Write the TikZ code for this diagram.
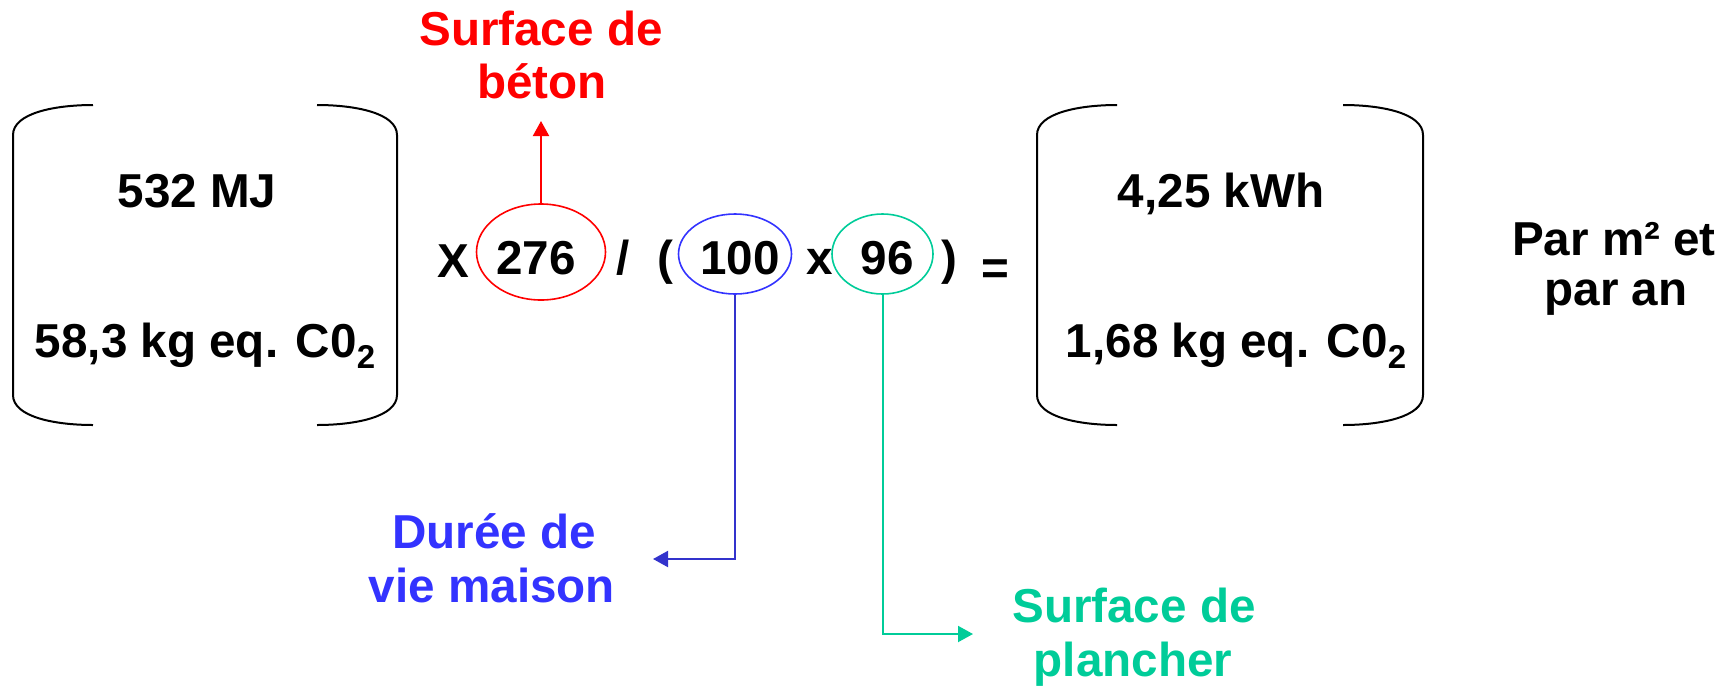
\documentclass[tikz,border=0pt]{standalone}
\usepackage{fontspec}
\setmainfont{Liberation Sans}
\usetikzlibrary{arrows.meta,shapes.geometric}
\definecolor{myred}{HTML}{FF0000}
\definecolor{myblue}{HTML}{3333FF}
\definecolor{mybluel}{HTML}{3333CC}
\definecolor{mygreen}{HTML}{00CC99}
\newcommand{\subtwo}{\raisebox{-11pt}{\fontsize{33}{33}\selectfont 2}}
\begin{document}
\begin{tikzpicture}[x=1pt,y=-1pt,
  txt/.style={inner sep=0pt,anchor=base,font=\fontsize{47.6}{56}\selectfont\bfseries},
  brk/.style={draw=black,line width=2pt},
  ell/.style={ellipse,draw,line width=1.6pt,inner sep=0pt},
  conn/.style={line width=2pt,-{Triangle[length=15pt,width=16pt]}}]
\useasboundingbox (0,0) rectangle (1731,686);
% left bracket
\draw[brk] (93,105) .. controls (55,105) and (13,113) .. (13,135) -- (13,395) .. controls (13,417) and (55,425) .. (93,425);
\draw[brk] (317,105) .. controls (355,105) and (397,113) .. (397,135) -- (397,395) .. controls (397,417) and (355,425) .. (317,425);
% right bracket
\draw[brk] (1117,105) .. controls (1079,105) and (1037,113) .. (1037,135) -- (1037,395) .. controls (1037,417) and (1079,425) .. (1117,425);
\draw[brk] (1343,105) .. controls (1381,105) and (1423,113) .. (1423,135) -- (1423,395) .. controls (1423,417) and (1381,425) .. (1343,425);
% bracket contents
\node[txt] (mj) at (197,207) {532 MJ};
\node[txt] (co2a) at (205,357) {58,3 kg eq. C0\subtwo};
\node[txt] (kwh) at (1221,207) {4,25 kWh};
\node[txt] (co2b) at (1236,357) {1,68 kg eq. C0\subtwo};
\node[txt] (par1) at (1614,255) {Par m² et};
\node[txt] (par2) at (1616,305) {par an};
% formula
\node[txt] (X) at (453,277) {X};
\node[ell,draw=myred,minimum width=129pt,minimum height=96pt] (eR) at (541,252) {};
\node[txt] (n276) at (536,274) {276};
\node[txt] (sl) at (623,274) {/};
\node[txt] (po) at (665,274) {(};
\node[ell,draw=myblue,minimum width=113pt,minimum height=80pt] (eB) at (735,254) {};
\node[txt] (n100) at (740,274) {100};
\node[txt] (tx) at (820,274) {x};
\node[ell,draw=mygreen,minimum width=101pt,minimum height=80pt] (eG) at (882.5,254) {};
\node[txt] (n96) at (887,274) {96};
\node[txt] (pc) at (949,274) {)};
\node[txt] (eq) at (995,284) {=};
% labels
\node[txt,text=myred] (rl1) at (541,45) {Surface de};
\node[txt,text=myred] (rl2) at (542,98) {béton};
\node[txt,text=myblue] (bl1) at (494,548) {Durée de};
\node[txt,text=myblue] (bl2) at (492,602) {vie maison};
\node[txt,text=mygreen] (gl1) at (1134,622) {Surface de};
\node[txt,text=mygreen] (gl2) at (1133,676) {plancher};
% connectors
\coordinate (rt) at (541,121);
\coordinate (bt) at (653,559);
\coordinate (gt) at (973,634);
\draw[conn,myred] (eR.north) -- (rt);
\draw[conn,mybluel] (eB.south) |- (bt);
\draw[conn,mygreen] (eG.south) |- (gt);
\end{tikzpicture}
\end{document}
